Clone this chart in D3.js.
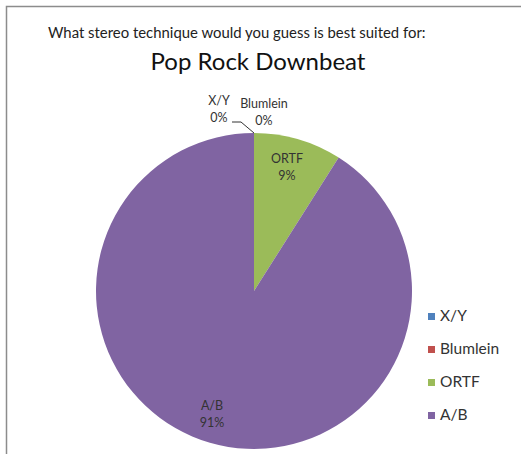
<!DOCTYPE html>
<html>
<head>
<meta charset="utf-8">
<script src="https://cdn.jsdelivr.net/npm/d3@7"></script>
<style>
  html, body { margin: 0; padding: 0; background: #fff; }
  svg { display: block; font-family: Lato, "Open Sans", sans-serif; }
</style>
</head>
<body>
<svg id="chart" width="521" height="454"></svg>
<script>
// Survey responses for "Pop Rock Downbeat"
const categories = ["X/Y", "Blumlein", "ORTF", "A/B"];
const values = [0, 0, 9, 91];
const colors = ["#4F81BD", "#C0504D", "#9BBB59", "#8064A2"];

const svg = d3.select("#chart");

// Chart frame
svg.append("rect")
  .attr("x", 6.5).attr("y", 6.5)
  .attr("width", 540).attr("height", 470)
  .attr("fill", "#fff")
  .attr("stroke", "#8c8c8c")
  .attr("stroke-width", 1.5);

// Titles
svg.append("text")
  .attr("x", 48).attr("y", 38)
  .attr("font-size", 14.9)
  .attr("fill", "#222")
  .text("What stereo technique would you guess is best suited for:");

svg.append("text")
  .attr("x", 258).attr("y", 70)
  .attr("text-anchor", "middle")
  .attr("font-size", 24)
  .attr("fill", "#111")
  .text("Pop Rock Downbeat");

// Pie
const cx = 254, cy = 291, r = 158;
const data = categories.map((c, i) => ({ name: c, value: values[i], color: colors[i] }));
const pie = d3.pie().value(d => d.value).sort(null);
const arcs = pie(data);
const arc = d3.arc().innerRadius(0).outerRadius(r);

const g = svg.append("g").attr("transform", `translate(${cx},${cy})`);
g.selectAll("path")
  .data(arcs)
  .join("path")
  .attr("d", arc)
  .attr("fill", d => d.data.color);

// Data labels: name on the first line, percentage below
const labelColor = "#333";
const labelPos = {
  "X/Y": [219, 105],
  "Blumlein": [264, 108],
  "ORTF": [287, 163],
  "A/B": [212, 410]
};
arcs.forEach(a => {
  const [x, y] = labelPos[a.data.name];
  const t = svg.append("text")
    .attr("x", x).attr("y", y)
    .attr("text-anchor", "middle")
    .attr("font-size", 12.5)
    .attr("fill", labelColor);
  t.append("tspan").attr("x", x).attr("dy", 0).text(a.data.name);
  t.append("tspan").attr("x", x).attr("dy", 17)
    .text(Math.round(a.data.value) + "%");
});

// Leader line from the X/Y label to its slice edge
const xyArc = arcs[0];
const edge = d3.arc().innerRadius(r).outerRadius(r).centroid(xyArc);
svg.append("path")
  .attr("d", `M${232},${122} L${241},${122} L${cx + edge[0]},${cy + edge[1]}`)
  .attr("fill", "none")
  .attr("stroke", "#333")
  .attr("stroke-width", 1);

// Legend
const legendY = [321, 354, 387, 420];
const legend = svg.append("g");
data.forEach((d, i) => {
  legend.append("rect")
    .attr("x", 428).attr("y", legendY[i] - 8)
    .attr("width", 7).attr("height", 7)
    .attr("fill", d.color);
  legend.append("text")
    .attr("x", 440).attr("y", legendY[i])
    .attr("font-size", 15.5)
    .attr("fill", "#333")
    .text(d.name);
});
</script>
</body>
</html>
